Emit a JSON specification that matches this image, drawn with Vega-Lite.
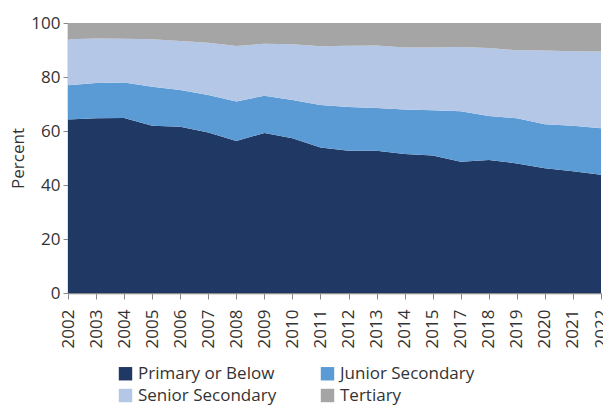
{
  "$schema": "https://vega.github.io/schema/vega-lite/v6.json",
  "width": 533,
  "height": 270,
  "autosize": {"type": "none"},
  "padding": {"left": 68, "top": 23, "right": 2, "bottom": 113},
  "background": "white",
  "config": {
    "view": {"stroke": null},
    "font": "Open Sans",
    "axis": {"labelFont": "Open Sans", "titleFont": "Open Sans", "labelColor": "#333333", "titleColor": "#333333", "domainColor": "#888888", "tickColor": "#888888", "grid": false},
    "legend": {"labelFont": "Open Sans", "labelColor": "#333333"}
  },
  "data": {
    "values": [
      {"year": "2002", "Primary or Below": 64.3, "Junior Secondary": 12.6, "Senior Secondary": 17.1, "Tertiary": 6.0},
      {"year": "2003", "Primary or Below": 64.7, "Junior Secondary": 13.1, "Senior Secondary": 16.5, "Tertiary": 5.7},
      {"year": "2004", "Primary or Below": 64.8, "Junior Secondary": 13.2, "Senior Secondary": 16.2, "Tertiary": 5.8},
      {"year": "2005", "Primary or Below": 61.9, "Junior Secondary": 14.5, "Senior Secondary": 17.6, "Tertiary": 6.0},
      {"year": "2006", "Primary or Below": 61.6, "Junior Secondary": 13.6, "Senior Secondary": 18.1, "Tertiary": 6.7},
      {"year": "2007", "Primary or Below": 59.4, "Junior Secondary": 13.9, "Senior Secondary": 19.4, "Tertiary": 7.3},
      {"year": "2008", "Primary or Below": 56.3, "Junior Secondary": 14.6, "Senior Secondary": 20.6, "Tertiary": 8.5},
      {"year": "2009", "Primary or Below": 59.3, "Junior Secondary": 13.8, "Senior Secondary": 19.2, "Tertiary": 7.7},
      {"year": "2010", "Primary or Below": 57.3, "Junior Secondary": 14.2, "Senior Secondary": 20.6, "Tertiary": 7.9},
      {"year": "2011", "Primary or Below": 53.9, "Junior Secondary": 15.7, "Senior Secondary": 21.8, "Tertiary": 8.6},
      {"year": "2012", "Primary or Below": 52.7, "Junior Secondary": 16.2, "Senior Secondary": 22.7, "Tertiary": 8.4},
      {"year": "2013", "Primary or Below": 52.7, "Junior Secondary": 15.8, "Senior Secondary": 23.2, "Tertiary": 8.3},
      {"year": "2014", "Primary or Below": 51.5, "Junior Secondary": 16.5, "Senior Secondary": 22.9, "Tertiary": 9.1},
      {"year": "2015", "Primary or Below": 50.9, "Junior Secondary": 16.8, "Senior Secondary": 23.2, "Tertiary": 9.1},
      {"year": "2017", "Primary or Below": 48.6, "Junior Secondary": 18.7, "Senior Secondary": 23.8, "Tertiary": 8.9},
      {"year": "2018", "Primary or Below": 49.3, "Junior Secondary": 16.3, "Senior Secondary": 25.1, "Tertiary": 9.3},
      {"year": "2019", "Primary or Below": 48.0, "Junior Secondary": 16.7, "Senior Secondary": 25.2, "Tertiary": 10.1},
      {"year": "2020", "Primary or Below": 46.2, "Junior Secondary": 16.3, "Senior Secondary": 27.3, "Tertiary": 10.2},
      {"year": "2021", "Primary or Below": 45.1, "Junior Secondary": 16.8, "Senior Secondary": 27.6, "Tertiary": 10.5},
      {"year": "2022", "Primary or Below": 43.8, "Junior Secondary": 17.2, "Senior Secondary": 28.4, "Tertiary": 10.6}
    ]
  },
  "transform": [
    {"fold": ["Primary or Below", "Junior Secondary", "Senior Secondary", "Tertiary"], "as": ["level", "value"]},
    {"calculate": "indexof(['Primary or Below','Junior Secondary','Senior Secondary','Tertiary'], datum.level)", "as": "rank"}
  ],
  "mark": {"type": "area", "interpolate": "linear"},
  "encoding": {
    "x": {
      "field": "year", "type": "nominal", "sort": null,
      "scale": {"type": "point", "padding": 0},
      "axis": {"title": null, "labelAngle": -90, "labelFontSize": 17, "tickSize": 6, "labelPadding": 10, "domainWidth": 1.5}
    },
    "y": {
      "field": "value", "type": "quantitative", "stack": "zero",
      "scale": {"domain": [0, 100], "nice": false},
      "axis": {"title": "Percent", "titleFontSize": 17, "titleFontWeight": "normal", "titlePadding": 3, "labelFontSize": 17, "values": [0, 20, 40, 60, 80, 100], "tickSize": 5, "labelPadding": 3, "domainWidth": 1.5}
    },
    "color": {
      "field": "level", "type": "nominal",
      "scale": {"domain": ["Primary or Below", "Junior Secondary", "Senior Secondary", "Tertiary"], "range": ["#203864", "#5B9BD5", "#B4C7E7", "#A5A5A5"]},
      "legend": {"title": null, "orient": "none", "direction": "horizontal", "legendX": 49, "legendY": 342, "columns": 2, "symbolType": "square", "symbolSize": 180, "labelFontSize": 17, "columnPadding": 42, "rowPadding": 4, "symbolStrokeWidth": 0, "labelOffset": 4}
    },
    "order": {"field": "rank", "type": "quantitative"}
  }
}
